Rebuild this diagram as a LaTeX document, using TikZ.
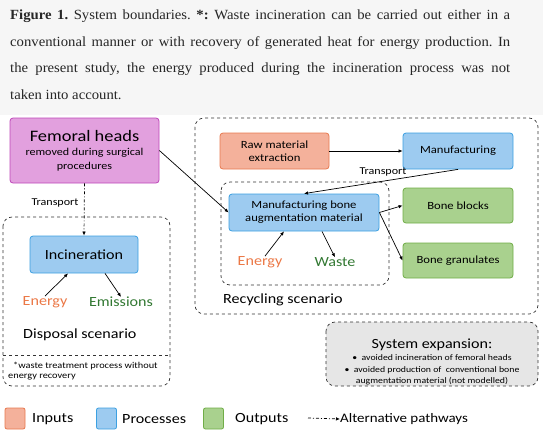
\documentclass[tikz,border=0pt]{standalone}
\usepackage{fontspec}
\setmainfont{Liberation Serif}[FakeStretch=1.05]
\newfontfamily\diagfont{Carlito}[FakeStretch=1.15]
\usetikzlibrary{arrows.meta}
\definecolor{capbg}{RGB}{246,246,246}
\definecolor{femfill}{RGB}{226,160,222}
\definecolor{femline}{RGB}{190,70,185}
\definecolor{procfill}{RGB}{157,203,240}
\definecolor{procline}{RGB}{60,160,225}
\definecolor{infill}{RGB}{244,177,155}
\definecolor{inline}{RGB}{232,122,80}
\definecolor{outfill}{RGB}{169,209,142}
\definecolor{outline}{RGB}{112,173,71}
\definecolor{energytxt}{RGB}{235,120,70}
\definecolor{wastetxt}{RGB}{50,120,50}
\definecolor{expfill}{RGB}{230,230,230}
\newcommand\dfs[2]{\diagfont\fontsize{#1}{#2}\selectfont}
\tikzset{
  box/.style={draw, rounded corners=3pt, line width=0.8pt, inner sep=0pt, align=center, font=\dfs{11}{13}},
  inbox/.style={box, fill=infill, draw=inline},
  procbox/.style={box, fill=procfill, draw=procline},
  outbox/.style={box, fill=outfill, draw=outline},
  scen/.style={draw=black!80, dashed, rounded corners=9pt, line width=0.7pt},
  flow/.style={-{Latex[length=4pt,width=3.5pt]}, line width=0.7pt},
  altflow/.style={flow, dash pattern=on 3pt off 2pt on 1pt off 2pt},
  lbl/.style={inner sep=0pt, font=\dfs{14}{16}},
  key/.style={draw, rounded corners=2pt, line width=0.8pt, minimum width=20pt, minimum height=21pt, inner sep=0pt}
}
\begin{document}
\begin{tikzpicture}[x=1pt, y=-1pt]
\useasboundingbox (0,0) rectangle (543,432);
\fill[capbg] (0,0) rectangle (543,115);
\node[anchor=north west, inner sep=0pt, text=black!85] (caption) at (10,10) {\parbox[t]{500pt}{\fontsize{14}{26.5}\selectfont\frenchspacing\hyphenpenalty=10000 \exhyphenpenalty=10000 \textbf{Figure 1.} System boundaries. \textbf{*:} Waste incineration can be carried out either in a\linebreak conventional manner or with recovery of generated heat for energy production. In\linebreak the present study, the energy produced during the incineration process was not\linebreak taken into account.}};
\draw[scen] (3,217) rectangle (170,386);
\draw[draw=black!80, dashed, line width=0.7pt] (3,355) -- (170,355);
\draw[scen] (195,118) rectangle (538,314);
\draw[scen] (221,182) rectangle (389,285);
\draw[scen, fill=expfill] (326,322) rectangle (538,386);
\node[box, fill=femfill, draw=femline, minimum width=149pt, minimum height=65pt, font=\dfs{10.5}{14}] (fem) at (84.5,150.5) {{\fontsize{16}{16}\selectfont Femoral heads}\\removed during surgical\\procedures};
\node[procbox, minimum width=108pt, minimum height=37pt, font=\dfs{14}{16}] (incin) at (84,254.5) {Incineration};
\node[inbox, minimum width=109pt, minimum height=36pt] (raw) at (274.5,151) {Raw material\\extraction};
\node[procbox, minimum width=110pt, minimum height=36pt] (manuf) at (458,151) {Manufacturing};
\node[procbox, minimum width=150pt, minimum height=37pt] (mbam) at (304,212.5) {Manufacturing bone\\augmentation material};
\node[outbox, minimum width=110pt, minimum height=35pt] (blocks) at (458,205.5) {Bone blocks};
\node[outbox, minimum width=110pt, minimum height=35pt] (gran) at (458,260.5) {Bone granulates};
\node[lbl, text=energytxt] (en1) at (45,302) {Energy};
\node[lbl, text=wastetxt] (em1) at (121,302) {Emissions};
\node[lbl, text=energytxt] (en2) at (260,262) {Energy};
\node[lbl, text=wastetxt] (waste) at (335,262) {Waste};
\node[lbl, anchor=west] (dispname) at (23,335) {Disposal scenario};
\node[lbl, anchor=west] (recname) at (223,300) {Recycling scenario};
\node[inner sep=0pt, anchor=west, align=left, font=\dfs{9}{10.5}] (foot) at (8,371) {\hspace{5pt}*waste treatment process without\\energy recovery};
\node[inner sep=0pt, font=\dfs{10.5}{12}] (tr1) at (55,203) {Transport};
\node[inner sep=0pt, font=\dfs{10.5}{12}] (tr2) at (383,172) {Transport};
\node[inner sep=0pt, align=center, font=\dfs{8.5}{11.5}] (explist) at (432,362) {{\fontsize{14}{14}\selectfont System expansion:}\\[1pt]\textbullet\ \ avoided incineration of femoral heads\\\textbullet\ \ avoided production of \ conventional bone\\augmentation material (not modelled)};
\draw[flow] (fem.east) -- (mbam.west);
\draw[altflow] (fem.south) -- (incin.north);
\draw[flow] (en1.north) -- ([xshift=-16pt]incin.south);
\draw[flow] ([xshift=21pt]incin.south) -- (em1.north);
\draw[flow] (raw.east) -- (manuf.west);
\draw[flow] (manuf.south) -- (mbam.north);
\draw[flow] (mbam.east) -- (blocks.west);
\draw[flow] (mbam.east) -- (gran.west);
\draw[flow] ([xshift=5pt]en2.north) -- ([xshift=-20pt]mbam.south);
\draw[flow] ([xshift=18pt]mbam.south) -- (waste.north);
\node[key, fill=infill, draw=inline] (kin) at (15,418.5) {};
\node[lbl, anchor=west] (kintxt) at (32,419) {Inputs};
\node[key, fill=procfill, draw=procline] (kproc) at (106.5,418.5) {};
\node[lbl, anchor=west] (kproctxt) at (122,419) {Processes};
\node[key, fill=outfill, draw=outline] (kout) at (213.5,418.5) {};
\node[lbl, anchor=west] (kouttxt) at (235,419) {Outputs};
\coordinate (kalt) at (308,418);
\node[lbl, anchor=west, font=\dfs{13}{15}] (kalttxt) at (340,419) {Alternative pathways};
\draw[altflow] (kalt) -- (kalttxt.west);
\end{tikzpicture}
\end{document}
